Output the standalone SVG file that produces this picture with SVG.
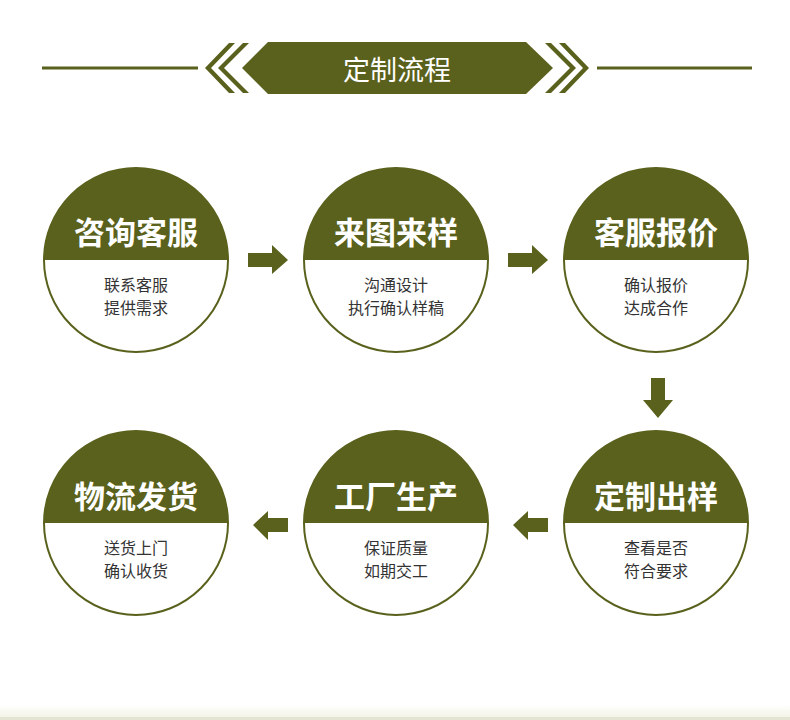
<svg xmlns="http://www.w3.org/2000/svg" width="790" height="720" viewBox="0 0 790 720">
<defs>
<style>
.ring{fill:#fff;stroke:#5a611c;stroke-width:2}
.cap{fill:#5a611c}
.t{font-family:"Noto Sans CJK SC","Noto Sans",sans-serif;font-weight:bold;font-size:31px;fill:#fff;text-anchor:middle;dominant-baseline:central}
.s{font-family:"Noto Sans CJK SC","Noto Sans",sans-serif;font-size:16px;fill:#333;text-anchor:middle;dominant-baseline:central}
.arr{fill:#5a611c}
</style>
<linearGradient id="bot" x1="0" y1="0" x2="0" y2="1">
<stop offset="0" stop-color="#ffffff"/>
<stop offset="1" stop-color="#f3f3e6"/>
</linearGradient>
</defs>
<rect width="790" height="720" fill="#fff"/>
<rect x="0" y="705" width="790" height="12" fill="url(#bot)"/>
<rect x="0" y="717" width="790" height="3" fill="#e4e4d2"/>

<g id="header">
<rect x="42" y="66.5" width="156" height="3" fill="#5a611c"/>
<rect x="597" y="66.5" width="155" height="3" fill="#5a611c"/>
<polygon points="205,68 229,43 235,43 211,68 235,93 229,93" fill="#5a611c"/>
<polygon points="218,68 243,43 249,43 224,68 249,93 243,93" fill="#5a611c"/>
<polygon points="589,68 565,43 559,43 583,68 559,93 565,93" fill="#5a611c"/>
<polygon points="576,68 551,43 545,43 570,68 545,93 551,93" fill="#5a611c"/>
<polygon points="242,68 268,42 526,42 553,68 526,94 268,94" fill="#5a611c"/>
<text x="397" y="68" font-family="Noto Sans CJK SC,Noto Sans,sans-serif" font-size="27" fill="#fff" text-anchor="middle" dominant-baseline="central">定制流程</text>
</g>

<g id="connectors">
<polygon class="arr" points="248,253 272,253 272,245 288,260 272,274 272,267 248,267"/>
<polygon class="arr" points="508,253 532,253 532,245 548,260 532,274 532,267 508,267"/>
<polygon class="arr" points="651,378 665,378 665,400 673,400 658,418 643,400 651,400"/>
<polygon class="arr" points="548,518 528,518 528,511 513,525 528,540 528,532 548,532"/>
<polygon class="arr" points="288,518 268,518 268,511 253,525 268,540 268,532 288,532"/>
</g>

<g id="n1">
<circle class="ring" cx="136" cy="260" r="92"/>
<path class="cap" d="M44,260 A92,92 0 0 1 228,260 Z"/>
<text class="t" x="136" y="230">咨询客服</text>
<text class="s" x="136" y="284">联系客服</text>
<text class="s" x="136" y="307">提供需求</text>
</g>
<g id="n2">
<circle class="ring" cx="396" cy="260" r="92"/>
<path class="cap" d="M304,260 A92,92 0 0 1 488,260 Z"/>
<text class="t" x="396" y="230">来图来样</text>
<text class="s" x="396" y="284">沟通设计</text>
<text class="s" x="396" y="307">执行确认样稿</text>
</g>
<g id="n3">
<circle class="ring" cx="656" cy="260" r="92"/>
<path class="cap" d="M564,260 A92,92 0 0 1 748,260 Z"/>
<text class="t" x="656" y="230">客服报价</text>
<text class="s" x="656" y="284">确认报价</text>
<text class="s" x="656" y="307">达成合作</text>
</g>
<g id="n4">
<circle class="ring" cx="656" cy="523" r="92"/>
<path class="cap" d="M564,523 A92,92 0 0 1 748,523 Z"/>
<text class="t" x="656" y="494">定制出样</text>
<text class="s" x="656" y="547">查看是否</text>
<text class="s" x="656" y="570">符合要求</text>
</g>
<g id="n5">
<circle class="ring" cx="396" cy="523" r="92"/>
<path class="cap" d="M304,523 A92,92 0 0 1 488,523 Z"/>
<text class="t" x="396" y="494">工厂生产</text>
<text class="s" x="396" y="547">保证质量</text>
<text class="s" x="396" y="570">如期交工</text>
</g>
<g id="n6">
<circle class="ring" cx="136" cy="523" r="92"/>
<path class="cap" d="M44,523 A92,92 0 0 1 228,523 Z"/>
<text class="t" x="136" y="494">物流发货</text>
<text class="s" x="136" y="547">送货上门</text>
<text class="s" x="136" y="570">确认收货</text>
</g>
</svg>
